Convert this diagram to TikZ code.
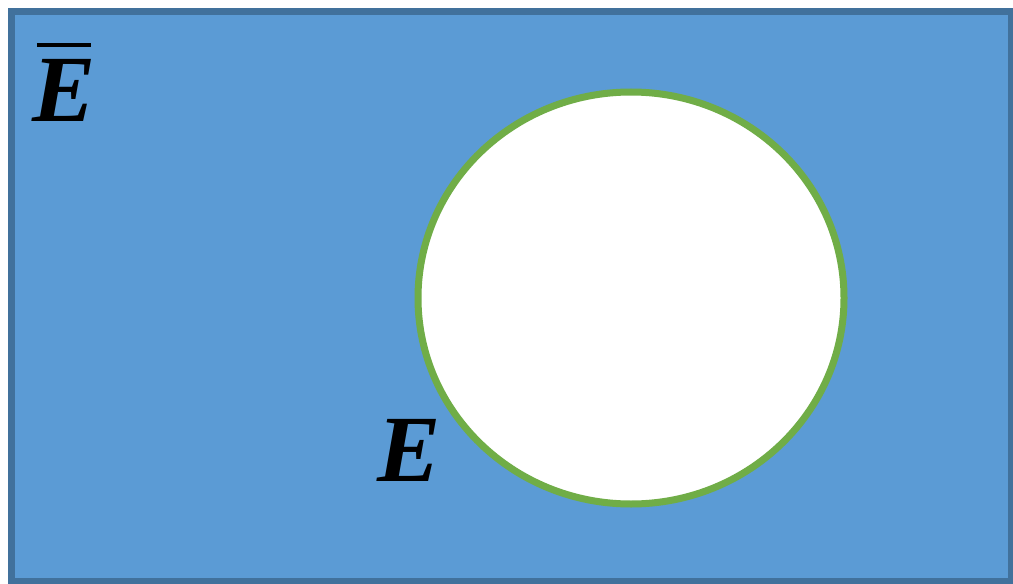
\documentclass[tikz,border=0pt]{standalone}
\usepackage{fontspec}
\setmainfont{Liberation Serif}
\definecolor{setfill}{HTML}{5B9BD5}
\definecolor{setedge}{HTML}{41719C}
\definecolor{eventedge}{HTML}{70AD47}
\newcommand{\complbar}{\makebox[0pt][l]{\hspace{2.5pt}\rule[42.5pt]{31pt}{2.3pt}}}
\begin{document}
\begin{tikzpicture}[x=0.02cm, y=-0.02cm,
  every node/.style={font=\fontsize{54}{60}\selectfont\bfseries\itshape}]
  \useasboundingbox (0,0) rectangle (1013,584);
  % sample space
  \draw[fill=setfill, draw=setedge, line width=7*0.02cm] (11.5,11.5) rectangle (1011.5,581.5);
  % event E
  \draw[fill=white, draw=eventedge, line width=7*0.02cm] (631,298) ellipse [x radius=213, y radius=206];
  \node[anchor=base] (ebar) at (64,122) {\complbar E};
  \node[anchor=base] (e) at (409,481) {E};
\end{tikzpicture}
\end{document}
